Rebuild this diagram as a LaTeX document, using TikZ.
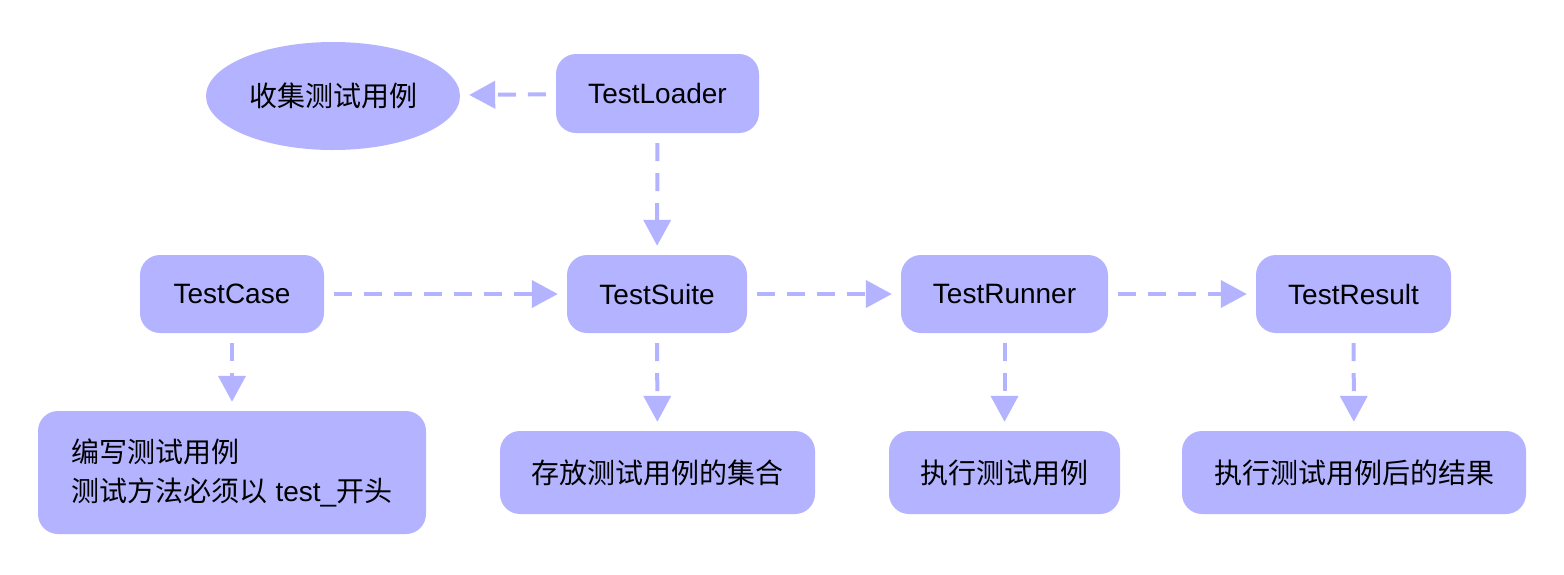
\documentclass[tikz,border=0pt]{standalone}
\usepackage{fontspec}
\setmainfont{Liberation Sans}
\newfontfamily\cjk{Noto Sans CJK SC}
\usetikzlibrary{shapes.geometric,arrows.meta}
\definecolor{boxc}{RGB}{179,179,255}
\begin{document}
\begin{tikzpicture}[x=1pt,y=-1pt,
  box/.style={fill=boxc, draw=none, rounded corners=20pt, inner sep=0pt, font=\fontsize{28}{34}\selectfont},
  conn/.style={draw=boxc, line width=4pt, dash pattern=on 18pt off 12pt,
    -{Triangle[length=26pt,width=27pt]}, shorten <=10pt, shorten >=9pt}]
\useasboundingbox (0,0) rectangle (1564,574);
\node[fill=boxc, ellipse, inner sep=0pt, minimum width=254pt, minimum height=108pt, font=\fontsize{28}{34}\selectfont] (collect) at (333,96) {\cjk 收集测试用例};
\node[box, minimum width=203pt, minimum height=79pt] (loader) at (657.5,93.5) {TestLoader};
\node[box, minimum width=184pt, minimum height=78pt] (case) at (232,294) {TestCase};
\node[box, minimum width=180pt, minimum height=78pt] (suite) at (657,294) {TestSuite};
\node[box, minimum width=207pt, minimum height=78pt] (runner) at (1004.5,294) {TestRunner};
\node[box, minimum width=195pt, minimum height=78pt] (result) at (1353.5,294) {TestResult};
\node[box, minimum width=388pt, minimum height=123pt, align=left, font=\fontsize{28}{39}\selectfont] (write) at (232,472.5) {{\cjk 编写测试用例}\\{\cjk 测试方法必须以} test\_{\cjk 开头}};
\node[box, minimum width=315pt, minimum height=83pt] (store) at (657.5,472.5) {\cjk 存放测试用例的集合};
\node[box, minimum width=231pt, minimum height=83pt] (exec) at (1004.5,472.5) {\cjk 执行测试用例};
\node[box, minimum width=344pt, minimum height=83pt] (res) at (1354,472.5) {\cjk 执行测试用例后的结果};
\draw[conn] (loader) -- (collect);
\draw[conn] (loader) -- (suite);
\draw[conn] (case) -- (suite);
\draw[conn] (suite) -- (runner);
\draw[conn] (runner) -- (result);
\draw[conn] (case) -- (write);
\draw[conn] (suite) -- (store);
\draw[conn] (runner) -- (exec);
\draw[conn] (result) -- (res);
\end{tikzpicture}
\end{document}
